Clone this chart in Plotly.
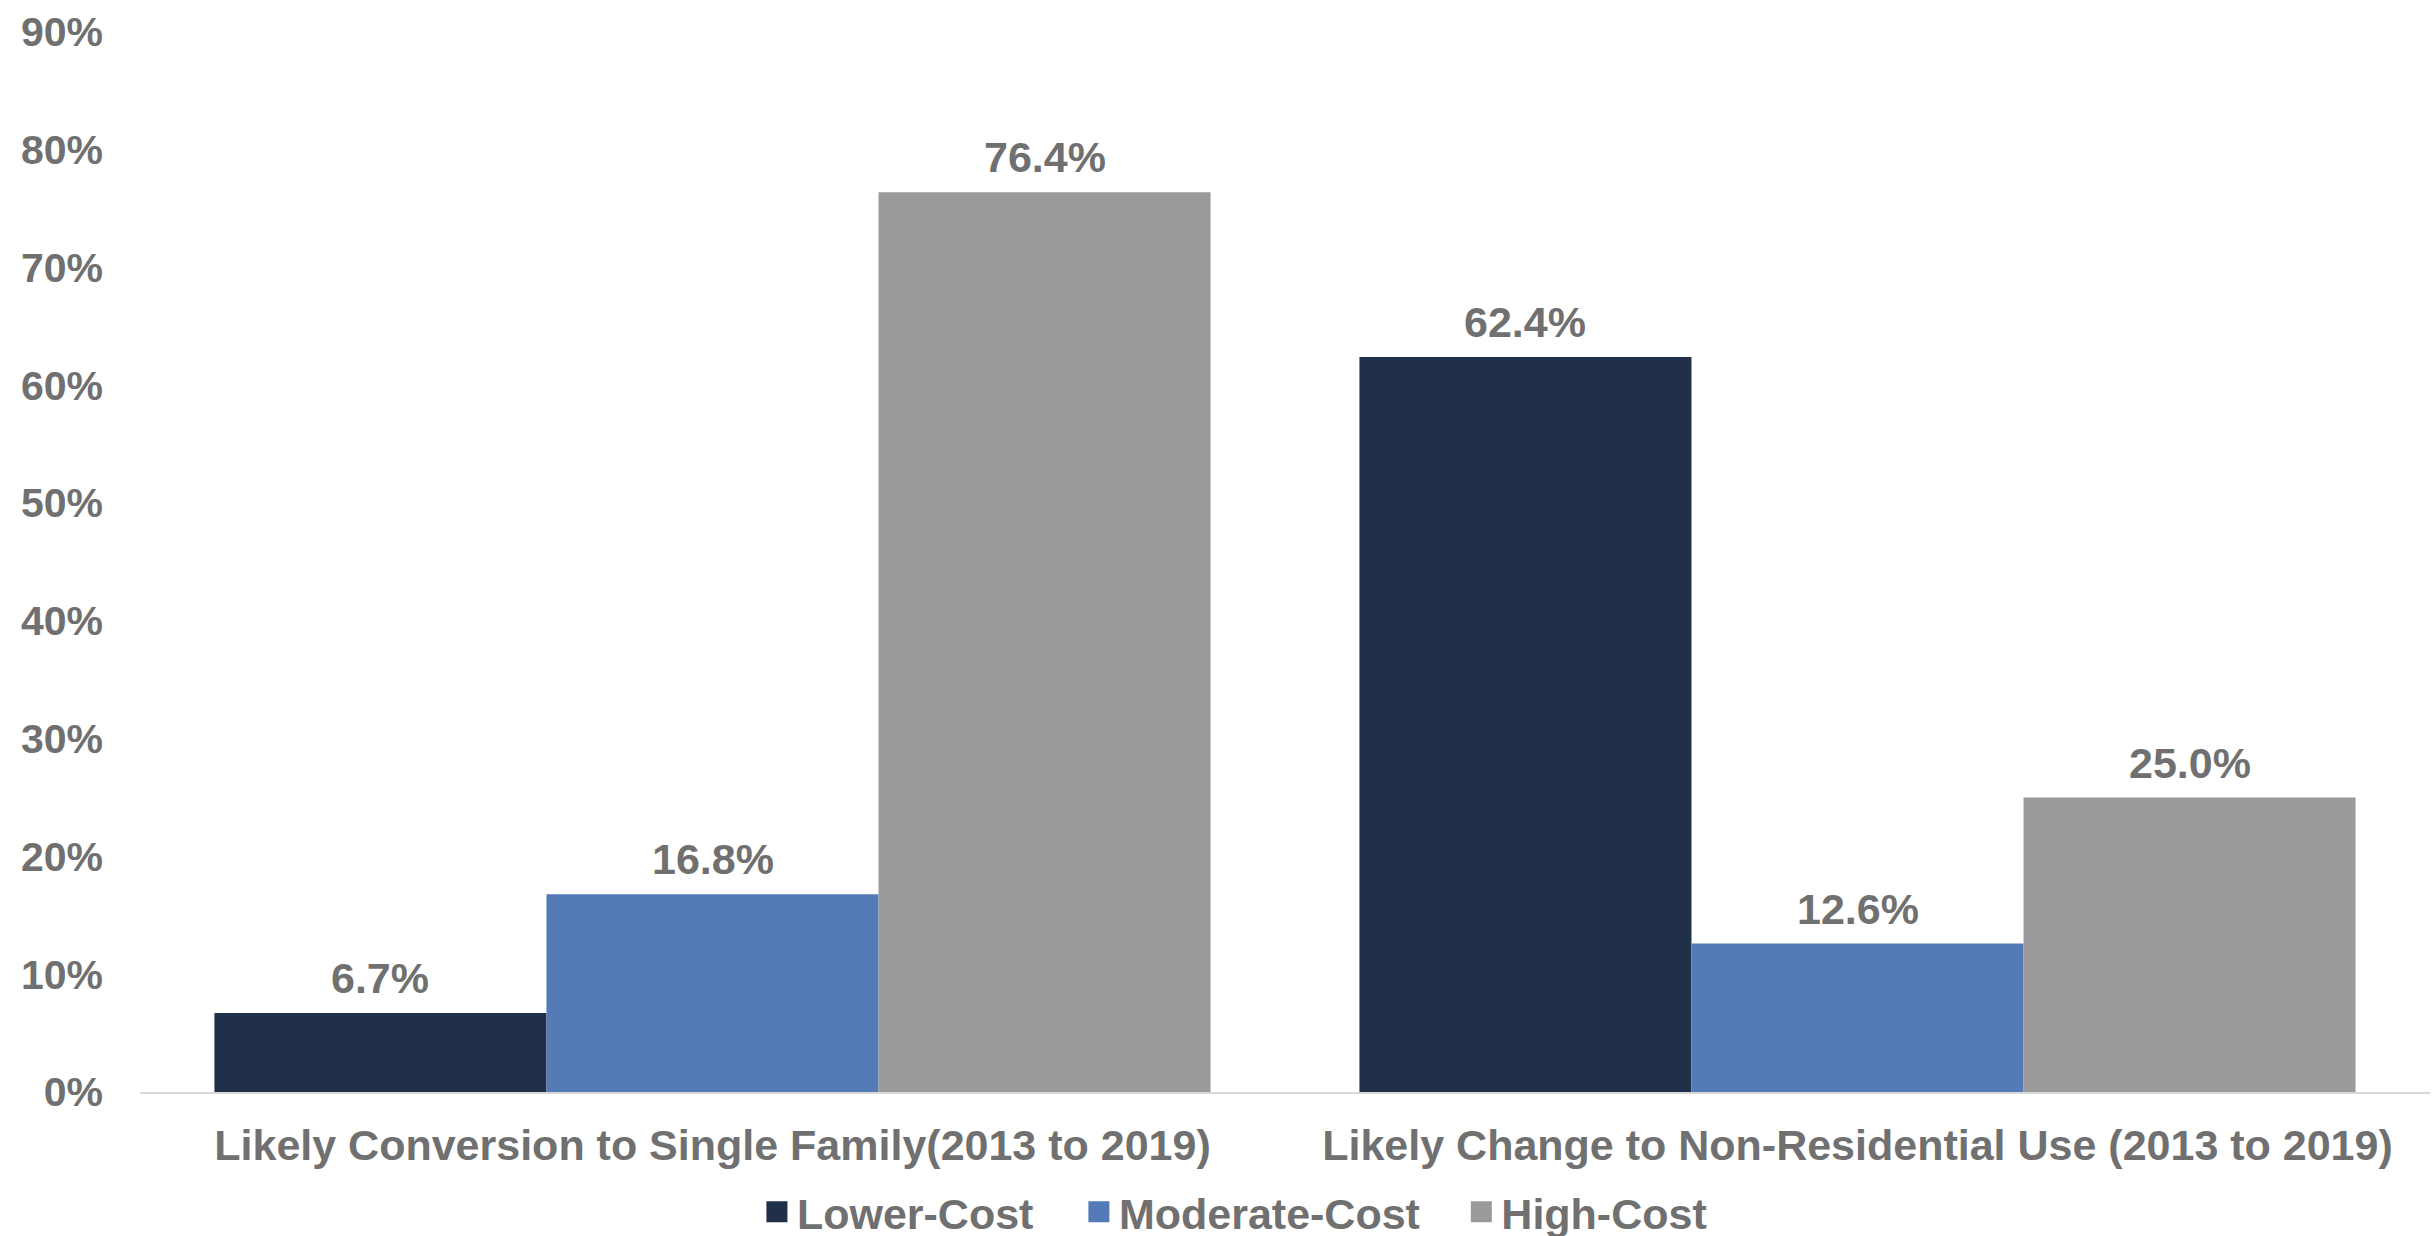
import plotly.graph_objects as go

categories = [
    "Likely Conversion to Single Family(2013 to 2019)",
    "Likely Change to Non-Residential Use (2013 to 2019)",
]
lower_cost = [0.067, 0.624]
moderate_cost = [0.168, 0.126]
high_cost = [0.764, 0.250]

series_names = ["Lower-Cost", "Moderate-Cost", "High-Cost"]
series_colors = ["#203048", "#547bb7", "#9a9a9a"]
y_ticks = [0, 0.1, 0.2, 0.3, 0.4, 0.5, 0.6, 0.7, 0.8, 0.9]

TEXT_GRAY = "#707070"
FAMILY = "Liberation Sans, Arial, sans-serif"
BARGAP = 0.13


def bold_font(size=43):
    return dict(family=FAMILY, size=size, color=TEXT_GRAY, weight="bold")


series_values = [lower_cost, moderate_cost, high_cost]
n_series = len(series_values)
bar_slot = (1 - BARGAP) / n_series

fig = go.Figure()
for name, values, color in zip(series_names, series_values, series_colors):
    fig.add_trace(go.Bar(
        name=name,
        x=categories,
        y=values,
        marker=dict(color=color, line=dict(width=0)),
        showlegend=False,
    ))

# value labels above each bar, placed at the bar's slot within its group
for i, values in enumerate(series_values):
    for j, v in enumerate(values):
        fig.add_annotation(
            x=j + (i - (n_series - 1) / 2) * bar_slot,
            y=v,
            xref="x",
            yref="y",
            text=f"{v:.1%}",
            showarrow=False,
            xanchor="center",
            yanchor="bottom",
            yshift=9,
            font=bold_font(),
        )

# one legend per series so each entry sits at its own spot below the axis
legend_ids = ["legend", "legend2", "legend3"]
legend_x = [0.2694, 0.410, 0.577]
for name, color, lid in zip(series_names, series_colors, legend_ids):
    fig.add_trace(go.Scatter(
        name=name,
        x=[None],
        y=[None],
        mode="markers",
        marker=dict(symbol="square", size=16, color=color,
                    line=dict(width=5, color=color)),
        showlegend=True,
        legend=lid,
    ))

legend_style = dict(
    orientation="h",
    xanchor="left",
    y=-0.113,
    yanchor="middle",
    font=bold_font(),
    itemclick=False,
    itemsizing="trace",
    bgcolor="rgba(0,0,0,0)",
)

fig.update_layout(
    width=2432,
    height=1236,
    barmode="group",
    bargap=BARGAP,
    bargroupgap=0,
    plot_bgcolor="white",
    paper_bgcolor="white",
    margin=dict(l=140, r=2, t=32, b=144, autoexpand=False),
    font=bold_font(),
    legend=dict(x=legend_x[0], **legend_style),
    legend2=dict(x=legend_x[1], **legend_style),
    legend3=dict(x=legend_x[2], **legend_style),
)

fig.update_xaxes(
    type="category",
    range=[-0.5, 1.5],
    showline=True,
    linecolor="#d9d9d9",
    linewidth=2,
    ticks="",
    showgrid=False,
    automargin=False,
    ticklabelstandoff=14,
    tickfont=bold_font(),
)
fig.update_yaxes(
    range=[0, 0.9],
    tickvals=y_ticks,
    tickformat=".0%",
    showgrid=False,
    zeroline=False,
    showline=False,
    ticks="",
    automargin=False,
    ticklabelstandoff=36,
    tickfont=bold_font(41),
)

fig.write_html("out.html")
